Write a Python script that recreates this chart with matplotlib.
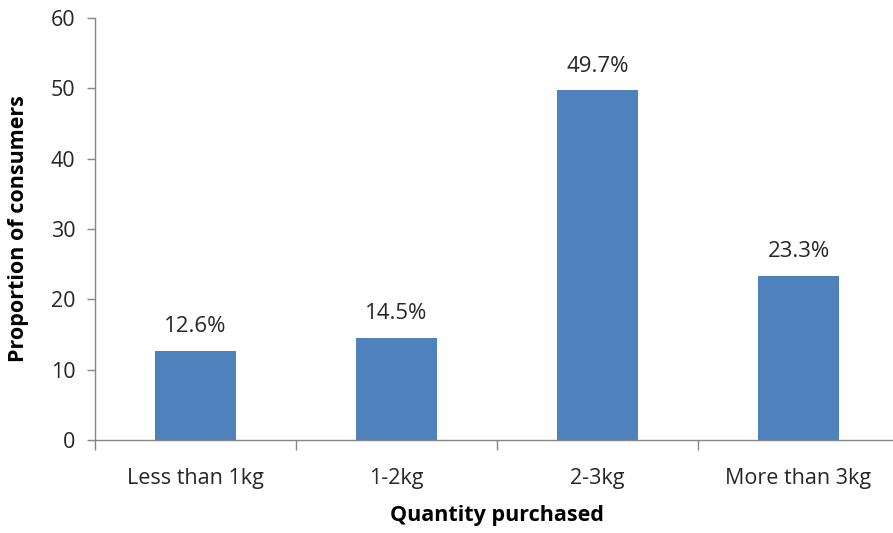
import matplotlib
matplotlib.use("Agg")
import matplotlib.pyplot as plt

categories = ["Less than 1kg", "1-2kg", "2-3kg", "More than 3kg"]
values = [12.6, 14.5, 49.7, 23.3]
value_labels = ["12.6%", "14.5%", "49.7%", "23.3%"]
y_ticks = [0, 10, 20, 30, 40, 50, 60]

plt.rcParams["font.family"] = ["Open Sans", "DejaVu Sans"]

W, H, DPI = 893, 533, 100
fig = plt.figure(figsize=(W / DPI, H / DPI), dpi=DPI)
ax = fig.add_axes([95 / W, 1 - 440 / H, (899 - 95) / W, (440 - 18) / H])

bar_color = "#4F81BD"
axis_color = "#868686"
text_color = "#262626"
fs = 15.5

x = list(range(len(categories)))
ax.bar(x, values, width=0.4, color=bar_color, zorder=2)

for xi, v, lab in zip(x, values, value_labels):
    ax.annotate(lab, (xi, v), xytext=(0, 10), textcoords="offset points",
                ha="center", va="bottom", fontsize=16, color=text_color)

ax.set_xlim(-0.5, len(categories) - 0.5)
ax.set_ylim(0, 60)
ax.set_yticks(y_ticks)
ax.set_yticklabels([str(t) for t in y_ticks], fontsize=fs, color=text_color)

# category labels centred, separator ticks at category boundaries
ax.set_xticks(x)
ax.set_xticklabels(categories, fontsize=fs, color=text_color)
ax.tick_params(axis="x", which="major", length=0, pad=20)
ax.set_xticks([i - 0.5 for i in range(len(categories) + 1)], minor=True)
ax.tick_params(axis="x", which="minor", length=7, width=1, color=axis_color, direction="out")
ax.tick_params(axis="y", length=6, width=1, color=axis_color, pad=8)

for side in ["top", "right"]:
    ax.spines[side].set_visible(False)
for side in ["left", "bottom"]:
    ax.spines[side].set_color(axis_color)
    ax.spines[side].set_linewidth(1)

ax.set_xlabel("Quantity purchased", fontsize=fs, fontweight="bold", color="black", labelpad=12)
ax.set_ylabel("Proportion of consumers", fontsize=fs, fontweight="bold", color="black", labelpad=16)

fig.savefig("out.png", dpi=DPI)
